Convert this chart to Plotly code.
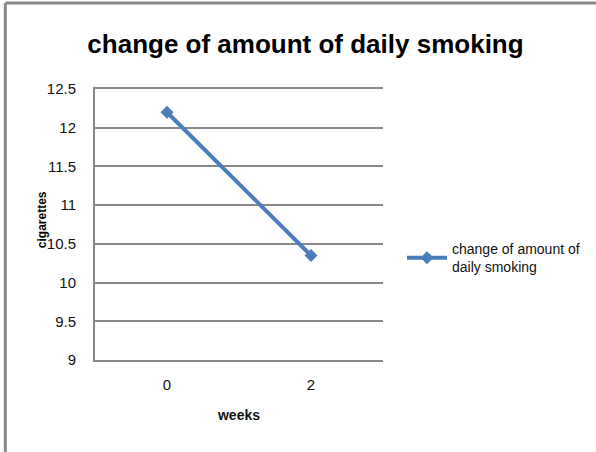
import plotly.graph_objects as go

weeks = ["0", "2"]
cigarettes = [12.2, 10.35]
series_name = "change of amount of<br>daily smoking"
y_ticks = [9, 9.5, 10, 10.5, 11, 11.5, 12, 12.5]
y_tick_labels = ["9", "9.5", "10", "10.5", "11", "11.5", "12", "12.5"]

FONT = "Liberation Sans, Arial, sans-serif"
BLUE = "#4a7ebb"

fig = go.Figure()
fig.add_trace(go.Scatter(
    x=weeks, y=cigarettes, mode="lines+markers", name=series_name,
    line=dict(color=BLUE, width=4),
    marker=dict(symbol="diamond", size=10, color=BLUE),
))

W, H = 596, 452
L, R, T, B = 95, 212, 89, 92
pw, ph = W - L - R, H - T - B

def px(x):
    return (x - L) / pw

def py(y):
    return (H - B - y) / ph

fig.update_layout(
    width=W, height=H,
    margin=dict(l=L, r=R, t=T, b=B),
    paper_bgcolor="white", plot_bgcolor="white",
    font=dict(family=FONT, color="#111", size=15),
    title=dict(text="<b>change of amount of daily smoking</b>",
               x=(88 + 523) / 2 / W, xanchor="center", y=1 - 44 / H, yanchor="middle",
               font=dict(family=FONT, size=26, color="#000")),
    showlegend=True,
    legend=dict(x=px(402), y=py(233), xanchor="left", yanchor="top",
                font=dict(family=FONT, size=14, color="#111"),
                bgcolor="rgba(0,0,0,0)", itemwidth=40),
    xaxis=dict(type="category", range=[-0.5, 1.5], showgrid=False, showline=True,
               mirror=True, linecolor="#888", linewidth=2, ticks="",
               tickfont=dict(size=15), ticklabelstandoff=10,
               title=dict(text="<b>weeks</b>", font=dict(size=14), standoff=18)),
    yaxis=dict(range=[9, 12.5], tickvals=y_ticks, ticktext=y_tick_labels,
               showgrid=True, gridcolor="#888", gridwidth=2, showline=True,
               linecolor="#888", linewidth=2, ticks="", tickfont=dict(size=15),
               ticklabelstandoff=14, zeroline=False),
    shapes=[
        dict(type="line", xref="paper", yref="paper", x0=px(5), x1=px(5),
             y0=py(3), y1=py(470), line=dict(color="#888", width=3)),
        dict(type="line", xref="paper", yref="paper", x0=px(5), x1=px(620),
             y0=py(3), y1=py(3), line=dict(color="#888", width=3)),
    ],
    annotations=[
        dict(text="<b>cigarettes</b>", xref="paper", yref="paper",
             x=px(42), y=py(220), xanchor="center", yanchor="middle",
             textangle=-90, showarrow=False,
             font=dict(family=FONT, size=12, color="#000")),
    ],
)

fig.write_html("out.html")
